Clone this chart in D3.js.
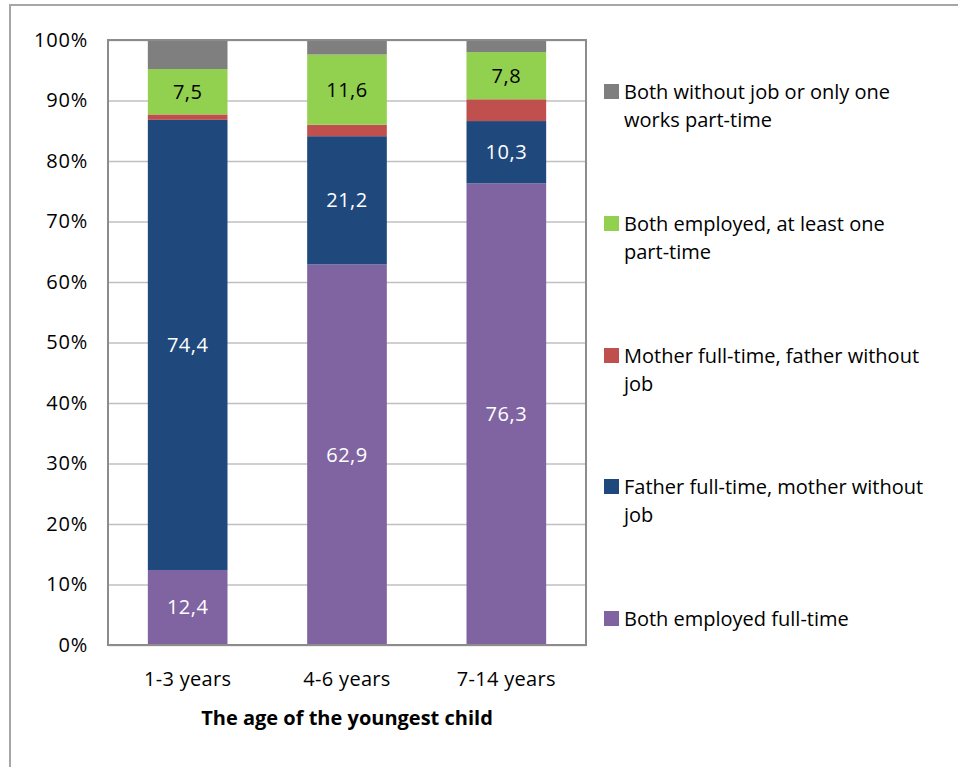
<!DOCTYPE html>
<html><head><meta charset="utf-8">
<script src="https://cdn.jsdelivr.net/npm/d3@7"></script>
<style>
html,body{margin:0;padding:0;background:#fff;}
svg{display:block;font-family:"Open Sans",Lato,sans-serif;}
</style></head>
<body>
<svg id="c" width="958" height="767"></svg>
<script>
const categories = ["1-3 years", "4-6 years", "7-14 years"];
const seriesNames = [
  "Both employed  full-time",
  "Father full-time, mother without job",
  "Mother full-time, father without job",
  "Both employed,  at least one part-time",
  "Both without job or only one works part-time"
];
const legendLines = [
  ["Both employed  full-time"],
  ["Father full-time, mother without", "job"],
  ["Mother full-time, father without", "job"],
  ["Both employed,  at least one", "part-time"],
  ["Both without job or only one", "works part-time"]
];
const bothFull = [12.4, 62.9, 76.3];
const fatherFull = [74.4, 21.2, 10.3];
const motherFull = [0.9, 1.9, 3.6];
const bothPart = [7.5, 11.6, 7.8];
const bothWithout = [4.8, 2.4, 2.0];
const colors = ["#8064A2", "#1F497D", "#C0504D", "#92D050", "#7F7F7F"];
const labelColors = ["#ffffff", "#ffffff", null, "#000000", null];
const yTicks = [0, 0.1, 0.2, 0.3, 0.4, 0.5, 0.6, 0.7, 0.8, 0.9, 1.0];
const xTitle = "The age of the youngest child";

const FONT = "'Open Sans',Lato,sans-serif";
const FS = 20;

const allSeries = [bothFull, fatherFull, motherFull, bothPart, bothWithout];
const rows = categories.map((c, i) => {
  const r = {cat: c};
  seriesNames.forEach((s, k) => r[s] = allSeries[k][i]);
  return r;
});
const stacked = d3.stack().keys(seriesNames)(rows);

const svg = d3.select("#c");
// outer border
svg.append("rect").attr("x", 10).attr("y", 5).attr("width", 960).attr("height", 780)
  .attr("fill", "none").attr("stroke", "#a6a6a6").attr("stroke-width", 2);

const m = {l: 108, t: 40, r: 586, b: 645};
const W = m.r - m.l, H = m.b - m.t;
const x = d3.scaleBand().domain(categories).range([0, W]).paddingInner(0.5).paddingOuter(0.25);
const y = d3.scaleLinear().domain([0, 100]).range([H, 0]);
const g = svg.append("g").attr("transform", `translate(${m.l},${m.t})`);

// gridlines
const grid = g.append("g").call(d3.axisLeft(y).tickValues(yTicks.map(v => v * 100)).tickSize(-W).tickFormat(""));
grid.select(".domain").remove();
grid.selectAll("line").attr("stroke", "#c0c0c0").attr("stroke-width", 1.5);

// y axis labels
const ya = g.append("g").attr("transform", "translate(-20,0)")
  .call(d3.axisLeft(y).tickValues(yTicks.map(v => v * 100)).tickSize(0).tickPadding(0)
    .tickFormat(d => d3.format(".0%")(d / 100)));
ya.select(".domain").remove();
ya.selectAll("text").attr("font-size", FS).attr("fill", "#000").attr("font-family", FONT).attr("letter-spacing", "0.8px");

// bars
const loc = d3.formatLocale({decimal: ",", thousands: ".", grouping: [3], currency: ["", ""]});
const fmt = loc.format(".1f");
stacked.forEach((s, k) => {
  const sg = g.append("g");
  sg.selectAll("rect").data(s).join("rect")
    .attr("x", d => x(d.data.cat)).attr("width", x.bandwidth())
    .attr("y", d => y(d[1])).attr("height", d => y(d[0]) - y(d[1]))
    .attr("fill", colors[k]);
  if (labelColors[k]) {
    sg.selectAll("text").data(s).join("text")
      .attr("x", d => x(d.data.cat) + x.bandwidth() / 2)
      .attr("y", d => (y(d[0]) + y(d[1])) / 2)
      .attr("dy", "0.35em").attr("text-anchor", "middle")
      .attr("font-size", FS).attr("fill", labelColors[k]).attr("letter-spacing", "0.5px")
      .text(d => fmt(d[1] - d[0]));
  }
});

// plot border
g.append("rect").attr("x", 0).attr("y", 0).attr("width", W).attr("height", H)
  .attr("fill", "none").attr("stroke", "#8c8c8c").attr("stroke-width", 2);

// x axis labels
const xa = g.append("g").attr("transform", `translate(0,${H})`)
  .call(d3.axisBottom(x).tickSize(0).tickPadding(27));
xa.select(".domain").remove();
xa.selectAll("text").attr("font-size", FS).attr("fill", "#000").attr("font-family", FONT).attr("letter-spacing", "0.3px");

g.append("text").attr("x", W / 2).attr("y", H + 80).attr("text-anchor", "middle")
  .attr("font-size", FS).attr("font-weight", "bold").text(xTitle);

// legend
const legY = [92, 224, 356, 487, 619];
const order = [4, 3, 2, 1, 0];
order.forEach((k, i) => {
  const lg = svg.append("g").attr("transform", `translate(604,${legY[i]})`);
  lg.append("rect").attr("x", 0).attr("y", -8).attr("width", 15).attr("height", 15).attr("fill", colors[k]);
  const t = lg.append("text").attr("x", 20).attr("y", 0).attr("font-size", FS).attr("fill", "#000");
  legendLines[k].forEach((ln, j) => {
    t.append("tspan").attr("x", 20).attr("dy", j === 0 ? "0.35em" : "28px").text(ln);
  });
});
</script>
</body></html>
